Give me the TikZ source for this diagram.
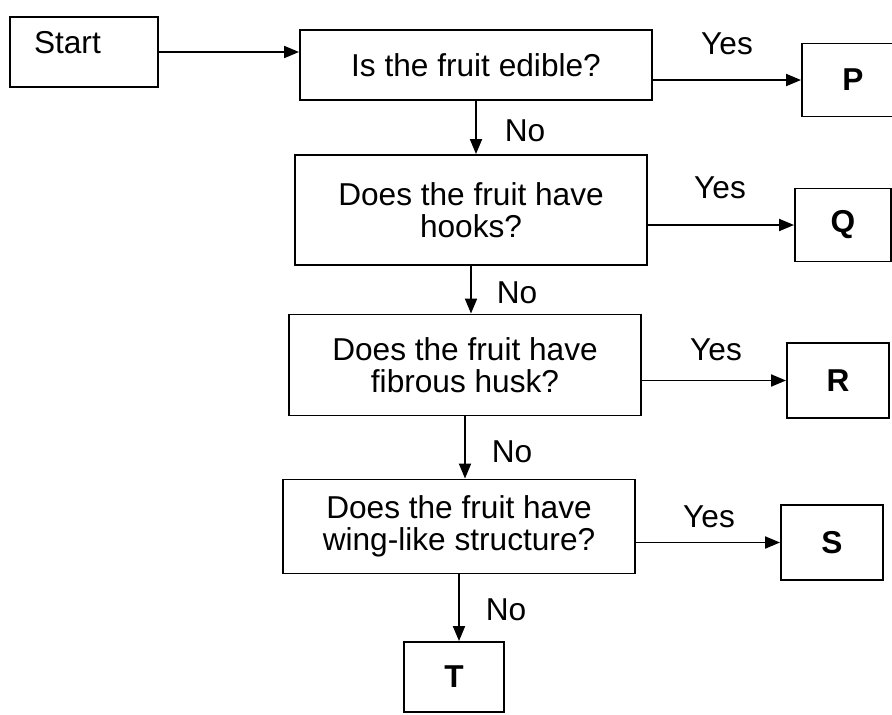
\documentclass[tikz,border=0pt]{standalone}
\usepackage{fontspec}
\setmainfont{Liberation Sans}
\usetikzlibrary{arrows.meta, positioning}

\begin{document}
\begin{tikzpicture}[
    >={Triangle[length=3mm, width=2.4mm]},
    every node/.style={font=\fontsize{18}{18.5}\selectfont},
    qbox/.style={draw, line width=1.1pt, minimum width=7.04cm, align=center, inner sep=0pt},
    leaf/.style={draw, line width=1.1pt, minimum width=2.04cm, minimum height=1.46cm,
                 font=\fontsize{18}{18.5}\selectfont\bfseries},
    link/.style={->, line width=1.1pt},
  ]

  % Background
  \fill[white] (0,0) rectangle (17.84,-14.28);
  \useasboundingbox (0,0) rectangle (17.84,-14.28);

  % === Start ===
  \node[draw, line width=1.1pt, minimum width=2.96cm, minimum height=1.4cm,
        text width=2.0cm, inner xsep=0.48cm, text depth=0.4cm, align=left]
    (start) at (1.68,-1.04) {Start};

  % === Questions ===
  \node[qbox, minimum height=1.4cm]  (edible) at (9.52,-1.30) {Is the fruit edible?};
  \node[qbox, minimum height=2.2cm]  (hooks)  at (9.42,-4.20) {Does the fruit have\\hooks?};
  \node[qbox, minimum height=2.02cm] (husk)   at (9.30,-7.30) {Does the fruit have\\fibrous husk?};
  \node[qbox, minimum height=1.88cm] (wing)   at (9.18,-10.53) {Does the fruit have\\wing-like structure?};

  % === Outcomes ===
  \node[leaf] (p) at (17.06,-1.60) {P};
  \node[leaf, minimum width=1.92cm] (q) at (16.86,-4.50) {Q};
  \node[leaf, minimum height=1.5cm] (r) at (16.76,-7.61) {R};
  \node[leaf, minimum height=1.5cm] (s) at (16.64,-10.85) {S};
  \node[leaf, minimum width=2.0cm, minimum height=1.4cm] (t) at (9.08,-13.54) {T};

  % Yes / No labels
  \node (yes1) at (14.54,-0.88) {Yes};
  \node (yes2) at (14.40,-3.76) {Yes};
  \node (yes3) at (14.32,-7.00) {Yes};
  \node (yes4) at (14.18,-10.34) {Yes};
  \node (no1) at (10.50,-2.62) {No};
  \node (no2) at (10.34,-5.86) {No};
  \node (no3) at (10.24,-9.04) {No};
  \node (no4) at (10.12,-12.20) {No};

  % Connectors
  \draw[link] (start.east) -- (start.east -| edible.west);
  \draw[link] (edible.east |- p.west) -- (p.west);
  \draw[link] (hooks.east |- q.west) -- (q.west);
  \draw[link] (husk.east |- r.west) -- (r.west);
  \draw[link] (wing.east |- s.west) -- (s.west);

  \draw[link] (edible.south) -- (edible.south |- hooks.north);
  \draw[link] (hooks.south) -- (hooks.south |- husk.north);
  \draw[link] (husk.south) -- (husk.south |- wing.north);
  \draw[link] (wing.south) -- (wing.south |- t.north);

\end{tikzpicture}
\end{document}
